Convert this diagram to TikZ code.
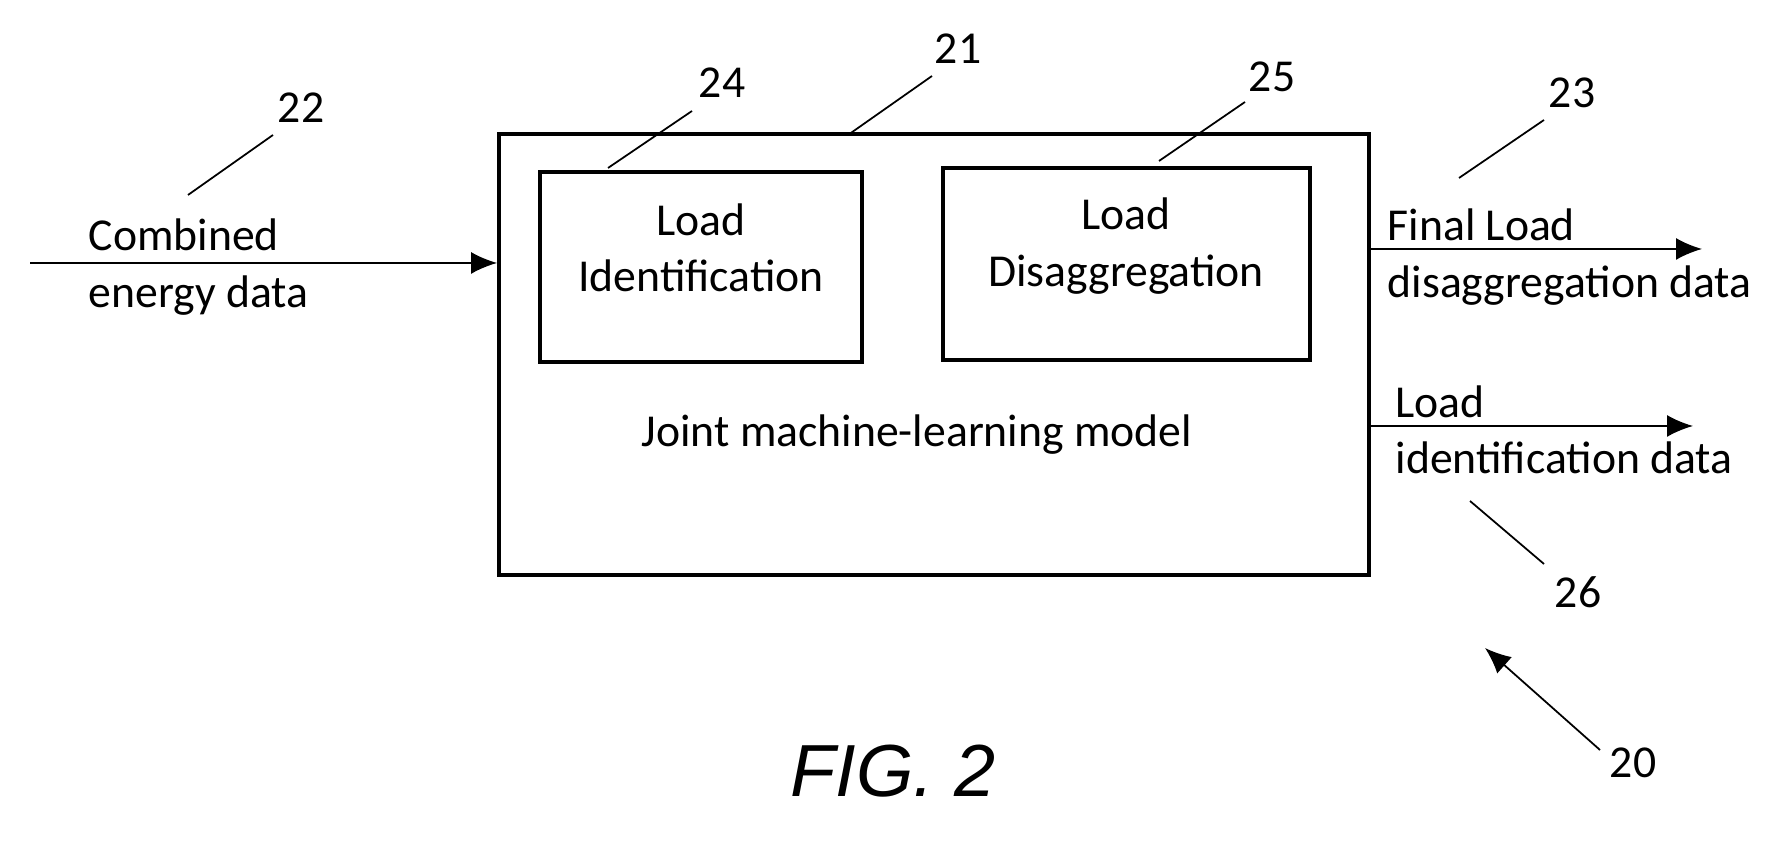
\documentclass[tikz,border=0pt]{standalone}
\usepackage{fontspec}
\setmainfont{Carlito}
\newfontfamily\figfont{Liberation Sans}
\usetikzlibrary{arrows.meta,positioning,calc}
\tikzset{
  >=Latex,
  outerbox/.style={draw=black,line width=1.1pt,minimum width=8.70cm,minimum height=4.41cm,inner sep=0pt},
  subbox/.style={draw=black,line width=0.9pt,inner sep=0pt},
  txt/.style={font=\fontsize{13}{16}\selectfont,text=black,align=center,inner sep=0pt},
  sidetxt/.style={txt,align=left,anchor=west},
  refnum/.style={font=\fontsize{13}{16}\selectfont,inner sep=0pt},
  flow/.style={-{Latex[length=2.6mm,width=2.2mm]},line width=0.5pt},
  leader/.style={line width=0.5pt}
}
\begin{document}
\begin{tikzpicture}[x=1cm,y=1cm]
  \useasboundingbox (0,0) rectangle (17.75,8.41);
  % main block and inner blocks
  \node[outerbox] (model) at (9.34,4.865) {};
  \node[subbox,minimum width=3.22cm,minimum height=1.90cm] (ident) at (7.01,5.74) {};
  \node[subbox,line width=1.2pt,minimum width=3.67cm,minimum height=1.92cm] (disagg) at (11.265,5.77) {};
  \node[txt] (identtxt) at (7.01,5.93) {Load\\Identification};
  \node[txt] (disaggtxt) at (11.26,5.95) {Load\\Disaggregation};
  \node[txt] (modeltxt) at (9.17,4.06) {Joint machine-learning model};
  % input and outputs
  \coordinate (in) at (0.30,5.78);
  \coordinate (out1) at (17.02,5.92);
  \coordinate (out2) at (16.93,4.15);
  \draw[flow] (in) -- (in -| model.west);
  \draw[flow] (out1 -| model.east) -- (out1);
  \draw[flow] (out2 -| model.east) -- (out2);
  \node[sidetxt] (intxt) at (0.88,5.74) {Combined\\energy data};
  \node[sidetxt] (out1txt) at (13.87,5.84) {Final Load\\disaggregation data};
  \node[sidetxt] (out2txt) at (13.95,4.11) {Load\\identification data};
  % reference numerals
  \node[refnum] (n22) at (3.01,7.33) {22};
  \node[refnum] (n24) at (7.22,7.58) {24};
  \node[refnum] (n21) at (9.58,7.92) {21};
  \node[refnum] (n25) at (12.72,7.64) {25};
  \node[refnum] (n23) at (15.72,7.48) {23};
  \node[refnum] (n26) at (15.78,2.49) {26};
  \node[refnum] (n20) at (16.33,0.78) {20};
  \draw[leader] (1.88,6.46) -- (2.73,7.06);
  \draw[leader] (6.08,6.73) -- (6.92,7.30);
  \draw[leader] (8.48,7.06) -- (9.32,7.65);
  \draw[leader] (11.59,6.80) -- (12.45,7.39);
  \draw[leader] (14.59,6.63) -- (15.44,7.21);
  \draw[leader] (14.70,3.40) -- (15.44,2.77);
  \coordinate (tail20) at (16.00,0.91);
  \coordinate (tip20) at (14.85,1.93);
  \draw[flow] (tail20) -- (tip20);
  % caption
  \node[font=\figfont\itshape\fontsize{21}{24}\selectfont,inner sep=0pt] (fig) at (8.93,0.70) {FIG. 2};
\end{tikzpicture}
\end{document}
